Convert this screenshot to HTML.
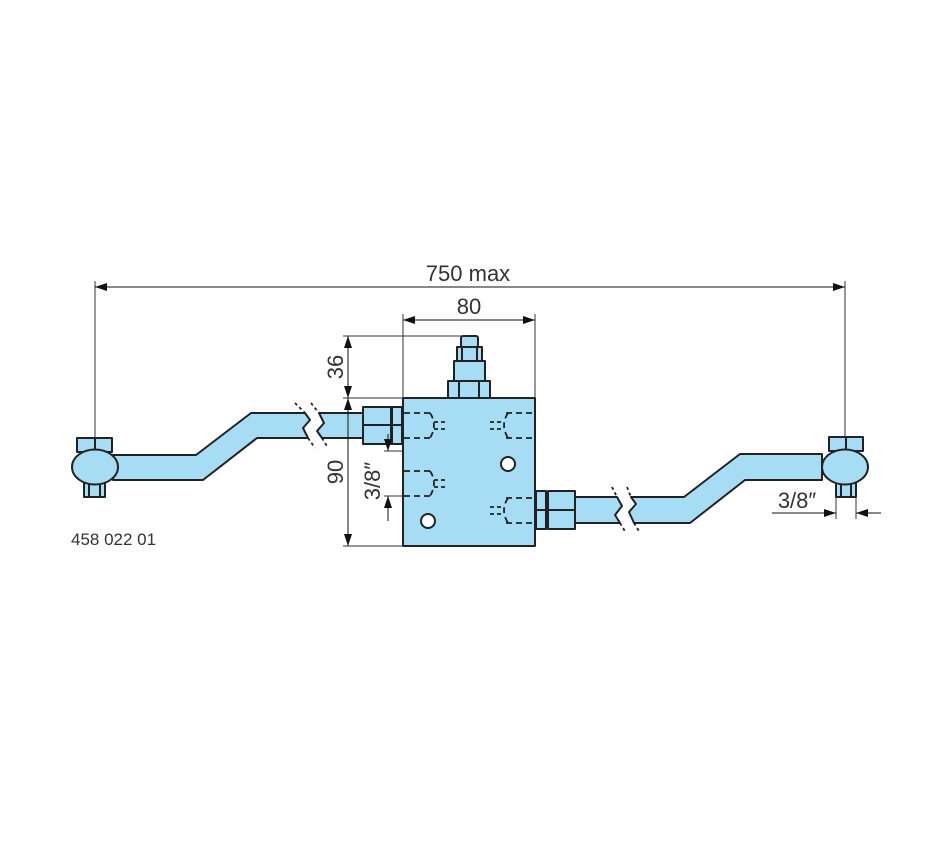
<!DOCTYPE html>
<html><head><meta charset="utf-8"><style>
html,body{margin:0;padding:0;background:#fff;}
svg{display:block;}
text{font-family:"Liberation Sans","DejaVu Sans",sans-serif;fill:#333;}
</style></head><body>
<svg width="950" height="860" viewBox="0 0 950 860" xmlns="http://www.w3.org/2000/svg">
<defs>
<marker id="a" viewBox="0 0 12 8" refX="12" refY="4" markerWidth="12" markerHeight="8" orient="auto-start-reverse" markerUnits="userSpaceOnUse"><path d="M0,0 L12,4 L0,8 z" fill="#111"/></marker>
</defs>
<g fill="#a6dcf4" stroke="#222" stroke-width="2" stroke-linejoin="round">
<path d="M113,455 L196,455 L251,413 L305,413 L310,420 L303,428 L308,438 L257,438 L203,480 L113,480 Z"/>
<path d="M319,413 L364,413 L364,438 L322,438 L317,431 L324,423 Z" />
<rect x="363" y="407" width="28" height="37"/>
<line x1="363" y1="425" x2="391" y2="425"/>
<rect x="392" y="407" width="10" height="37"/>
<line x1="392" y1="425" x2="402" y2="425"/>
<rect x="77" y="438" width="35" height="14"/>
<line x1="95" y1="438" x2="95" y2="452"/>
<rect x="84" y="483" width="21" height="14"/>
<line x1="89" y1="483" x2="89" y2="497"/><line x1="100" y1="483" x2="100" y2="497"/>
<ellipse cx="95" cy="467" rx="23" ry="17.5"/>
<path d="M822,454 L740,454 L684,497 L631,497 L636,504 L629,512 L634,523 L690,523 L745,480 L822,480 Z"/>
<path d="M617,497 L575,497 L575,523 L620,523 L615,515 L622,506 Z"/>
<rect x="548" y="491" width="27" height="38"/>
<line x1="548" y1="510" x2="575" y2="510"/>
<rect x="536" y="491" width="10" height="38"/>
<line x1="536" y1="510" x2="546" y2="510"/>
<rect x="829" y="437" width="34" height="14"/>
<line x1="846" y1="437" x2="846" y2="451"/>
<rect x="836" y="483" width="20" height="14"/>
<line x1="841" y1="483" x2="841" y2="497"/><line x1="851" y1="483" x2="851" y2="497"/>
<ellipse cx="845" cy="467" rx="23" ry="17.5"/>
<rect x="403" y="398" width="132" height="148"/>
<rect x="448" y="381" width="42" height="17"/>
<line x1="459" y1="381" x2="459" y2="398"/><line x1="479" y1="381" x2="479" y2="398"/>
<rect x="454" y="361" width="31" height="20"/>
<rect x="457" y="347" width="25" height="14"/>
<line x1="462" y1="347" x2="462" y2="361"/><line x1="477" y1="347" x2="477" y2="361"/>
<rect x="461" y="336" width="17" height="11" rx="2"/>
</g>
<g fill="#fff" stroke="#222" stroke-width="2">
<circle cx="508" cy="464" r="7"/>
<circle cx="428" cy="521" r="7"/>
</g>
<g fill="none" stroke="#222" stroke-width="1.8" stroke-dasharray="6,4">
<line x1="404" y1="413" x2="432" y2="413"/><line x1="404" y1="438" x2="432" y2="438"/>
<line x1="404" y1="471" x2="432" y2="471"/><line x1="404" y1="496" x2="432" y2="496"/>
<line x1="506" y1="413" x2="534" y2="413"/><line x1="506" y1="438" x2="534" y2="438"/>
<line x1="506" y1="498" x2="534" y2="498"/><line x1="506" y1="523" x2="534" y2="523"/>
<path d="M430,413 Q438,425 430,438"/><path d="M430,471 Q438,483 430,496"/>
<path d="M508,413 Q500,425 508,438"/><path d="M508,498 Q500,510 508,523"/>
<g stroke-dasharray="4,3"><line x1="434" y1="422" x2="447" y2="422"/><line x1="434" y1="429" x2="447" y2="429"/>
<line x1="434" y1="480" x2="447" y2="480"/><line x1="434" y1="487" x2="447" y2="487"/>
<line x1="490" y1="422" x2="503" y2="422"/><line x1="490" y1="429" x2="503" y2="429"/>
<line x1="490" y1="507" x2="503" y2="507"/><line x1="490" y1="514" x2="503" y2="514"/></g>
<g stroke-dasharray="3,3">
<line x1="295" y1="403" x2="305" y2="413"/><line x1="308" y1="438" x2="315" y2="448"/>
<line x1="311" y1="403" x2="319" y2="413"/><line x1="322" y1="438" x2="328" y2="448"/>
<line x1="612" y1="487" x2="617" y2="497"/><line x1="620" y1="523" x2="626" y2="533"/>
<line x1="627" y1="487" x2="631" y2="497"/><line x1="634" y1="523" x2="640" y2="533"/>
</g>
</g>
<g stroke="#333" stroke-width="1" fill="none">
<line x1="95" y1="281" x2="95" y2="438"/><line x1="845" y1="281" x2="845" y2="437"/>
<line x1="403" y1="314" x2="403" y2="398"/><line x1="535" y1="314" x2="535" y2="398"/>
<line x1="343" y1="336" x2="468" y2="336"/><line x1="343" y1="398" x2="403" y2="398"/>
<line x1="343" y1="546" x2="403" y2="546"/>
<line x1="384" y1="451" x2="403" y2="451"/><line x1="384" y1="496" x2="403" y2="496"/>
<line x1="836" y1="497" x2="836" y2="519"/><line x1="856" y1="497" x2="856" y2="519"/>
</g>
<g stroke="#111" stroke-width="1" fill="none">
<line x1="95" y1="287" x2="845" y2="287" marker-start="url(#a)" marker-end="url(#a)"/>
<line x1="403" y1="320" x2="535" y2="320" marker-start="url(#a)" marker-end="url(#a)"/>
<line x1="348" y1="336" x2="348" y2="398" marker-start="url(#a)" marker-end="url(#a)"/>
<line x1="348" y1="398" x2="348" y2="546" marker-start="url(#a)" marker-end="url(#a)"/>
<line x1="388" y1="434" x2="388" y2="451" marker-end="url(#a)"/>
<line x1="388" y1="521" x2="388" y2="496" marker-end="url(#a)"/>
<line x1="772" y1="513" x2="836" y2="513" marker-end="url(#a)"/>
<line x1="881" y1="513" x2="856" y2="513" marker-end="url(#a)"/>
</g>
<text x="468" y="281" font-size="22" text-anchor="middle">750 max</text>
<text x="469" y="314" font-size="22" text-anchor="middle">80</text>
<text transform="translate(343,367) rotate(-90)" font-size="22" text-anchor="middle">36</text>
<text transform="translate(343,472) rotate(-90)" font-size="22" text-anchor="middle">90</text>
<text transform="translate(380,481) rotate(-90)" font-size="22" text-anchor="middle">3/8″</text>
<text x="797" y="508" font-size="22" text-anchor="middle">3/8″</text>
<text x="71" y="545" font-size="17" fill="#444">458 022 01</text>
</svg>
</body></html>
